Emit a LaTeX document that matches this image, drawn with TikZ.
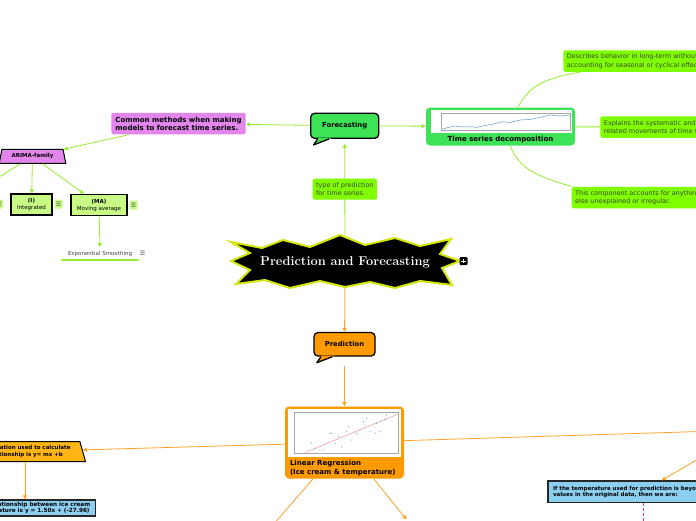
\documentclass[tikz,border=0pt]{standalone}
\usepackage{fontspec}
\usepackage{tikz}
\usetikzlibrary{arrows.meta,calc,positioning,shapes.geometric}
\newfontfamily\mapfont{DejaVu Sans}
\definecolor{limeline}{HTML}{94EC2C}
\definecolor{limefill}{HTML}{80FF00}
\definecolor{notetext}{HTML}{3A4428}
\definecolor{fcgreen}{HTML}{3EE257}
\definecolor{cmviolet}{HTML}{E386EC}
\definecolor{termgreen}{HTML}{C8FA86}
\definecolor{prorange}{HTML}{FF9B00}
\definecolor{prline}{HTML}{FFA128}
\definecolor{amberbox}{HTML}{FFB514}
\definecolor{skybox}{HTML}{8CCFF1}
\definecolor{starrim}{HTML}{D2E60A}
\definecolor{dashred}{HTML}{D2416E}
\definecolor{chartblue}{HTML}{5B9BD0}
\definecolor{lrred}{HTML}{F2A3A3}

\begin{document}
\begin{tikzpicture}[x=1pt, y=-1pt, line width=0.8pt,
  bubble/.style={draw=black, line width=1.3pt, rounded corners=4pt, inner sep=0, font=\mapfont\bfseries\fontsize{6.8}{8}\selectfont},
  panel/.style={rounded corners=4pt, inner sep=0},
  paneltitle/.style={anchor=south, yshift=1.5pt, inner sep=1pt, font=\mapfont\bfseries\fontsize{7}{8.7}\selectfont},
  lrtitle/.style={anchor=south west, xshift=4pt, yshift=2pt, inner sep=1pt, align=left, font=\mapfont\bfseries\fontsize{7}{8.7}\selectfont},
  violetnote/.style={fill=cmviolet, rounded corners=2pt, align=left, inner xsep=4pt, inner ysep=2pt, minimum height=21.5, font=\mapfont\bfseries\fontsize{7}{8.2}\selectfont},
  limenote/.style={fill=limefill, rounded corners=1.5pt, align=left, inner xsep=3.5pt, inner ysep=2pt, minimum height=21.5, text=notetext, font=\mapfont\fontsize{6.5}{8.5}\selectfont},
  termbox/.style={draw=black, line width=1.4pt, fill=termgreen, align=center, inner sep=0, font=\mapfont\fontsize{5.5}{7}\selectfont},
  noteicon/.style={fill=termgreen, rounded corners=1pt, minimum width=8, minimum height=9, inner sep=0, text=black!70, font=\mapfont\fontsize{6}{6}\selectfont},
  skynote/.style={draw=black!85, line width=1.5pt, fill=skybox, align=left, inner xsep=5pt, inner ysep=2pt, font=\mapfont\bfseries\fontsize{5.5}{5.9}\selectfont},
  trap/.style={trapezium, trapezium stretches body, draw=black, line width=1pt, inner sep=1pt, font=\mapfont\bfseries\fontsize{5.5}{6.6}\selectfont},
  noteline/.style={limeline, -{Triangle[length=4pt,width=4pt]}},
  plainline/.style={limeline},
  prarrow/.style={prline, -{Triangle[length=4pt,width=4pt]}}]
  \useasboundingbox (0,0) rectangle (696,520);
  \fill[white] (0,0) rectangle (696,520);
  \clip (0,0) rectangle (696,520);

  \filldraw[fill=black, draw=starrim, line width=2pt] (231,242) -- (262,248) -- (283,240) -- (310,247) -- (340,235) -- (365,245) -- (395,238) -- (420,246) -- (451,239) -- (440,254) -- (460,261) -- (442,268) -- (452,285) -- (420,281) -- (395,288) -- (370,282) -- (345,287) -- (320,281) -- (290,288) -- (265,280) -- (236,284) -- (250,270) -- (231,261) -- (250,253) -- cycle;
  \node[text=white, font=\bfseries\fontsize{12.8}{14}\selectfont, minimum width=226, minimum height=52] (pf) at (345,262) {Prediction and Forecasting};
  \node[fill=black, rounded corners=1pt, minimum size=8, inner sep=0] (pficon) at (463.5,261) {};
  \draw[white, line width=0.7pt] ($(pficon)+(-2.2,0)$) -- ($(pficon)+(2.2,0)$) ($(pficon)+(0,-2.2)$) -- ($(pficon)+(0,2.2)$);

  \node[bubble, fill=fcgreen, minimum width=68, minimum height=25] (fc) at (344.7,125.8) {Forecasting};
  \node[bubble, fill=prorange, minimum width=61, minimum height=23.5] (pr) at (344.5,344.3) {Prediction};
  \foreach \nd/\col in {fc/fcgreen,pr/prorange}{
    \fill[\col] ($(\nd.south west)+(8.4,-1.2)$) -- ($(\nd.south west)+(3.5,6)$) -- ($(\nd.south west)+(22.1,-1.2)$) -- cycle;
    \draw[line width=1.3pt, line join=round] ($(\nd.south west)+(7.6,0)$) -- ($(\nd.south west)+(3.5,6)$) -- ($(\nd.south west)+(19,0)$);
  }

  \node[violetnote, anchor=west] (cm) at (111,123.5) {Common methods when making\\models to forecast time series.};
  \node[trap, fill=cmviolet, trapezium left angle=70, trapezium right angle=70, minimum width=66.5, minimum height=14] (arima) at (32.5,156.3) {ARIMA-family};
  \node[termbox, minimum width=41, minimum height=21] (int) at (31.5,204.5) {\textbf{(I)}\\Integrated};
  \node[termbox, minimum width=56, minimum height=21] (ma) at (99,205) {\textbf{(MA)}\\Moving average};
  \foreach \px/\py [count=\i] in {-1/204, 58.5/204, 133.5/205}
    \node[noteicon] (icon\i) at (\px,\py) {☰};
  \node[minimum width=75, inner xsep=0, inner ysep=3.5pt, text=black!75, font=\mapfont\fontsize{5.5}{6.6}\selectfont] (es) at (100,253.5) {Exponential Smoothing};
  \draw[limeline, line width=2pt, line cap=round] (es.south west) -- (es.south east);
  \node[text=black!75, font=\mapfont\fontsize{6}{6}\selectfont] (esicon) at (142.5,253) {☰};

  \node[panel, fill=fcgreen, minimum width=149, minimum height=38, label={[paneltitle]south:Time series decomposition}] (tsd) at (500.5,126.5) {};
  \fill[white] (430.7,110) rectangle (571.7,133.3);
  \draw[black!35, line width=0.3pt] (441,113) rectangle (570,130.5);
  \draw[chartblue, line width=0.5pt] plot coordinates {(441.7,129.3) (448,127.5) (455,126) (462,127) (470,126.7) (477,127.3) (485,125.5) (492,124.3) (503,121.7) (510,122.5) (520,120) (530,119.5) (543,116.7) (550,115) (560,116) (570,115)};

  \node[limenote, anchor=west] (trend) at (563,61) {Describes behavior in long-term without\\accounting for seasonal or cyclical effects.};
  \node[limenote, anchor=west] (season) at (600,127) {Explains the systematic and calendar\\related movements of time series.};
  \node[limenote, anchor=west] (resid) at (571.3,197.5) {This component accounts for anything\\else unexplained or irregular.};

  \node[panel, fill=prorange, minimum width=119, minimum height=72, label={[lrtitle]south west:{Linear Regression\\(Ice cream \& temperature)}}] (lr) at (344.5,442.5) {};
  \fill[white] (288.3,409.3) rectangle (400.7,456.7);
  \draw[black!35, line width=0.3pt] (294,412) rectangle (398,453.5);
  \draw[lrred, line width=0.6pt] (305,452.5) -- (397,414.5);
  \foreach \sx/\sy in {311.7/443.3, 315/448.3, 320/450, 323.3/450, 330/433.3, 331.7/433.3, 335/443.3, 338.3/436.7, 341.7/446.7, 346.7/431.7, 348.3/426.7, 351.7/440, 356.7/433.3, 360/430, 363.3/421.7, 365/425, 366.7/418.3, 370/431.7, 375/433.3, 376.7/423.3, 380/431.7, 385/420, 386.7/415}
    \fill[chartblue] (\sx,\sy) circle (0.6);

  \node[trap, fill=amberbox, trapezium left angle=68, trapezium right angle=68, minimum width=121, minimum height=20, text width=100, align=left] (eq) at (25,451.5) {The equation used to calculate\\the relationship is y= mx +b};
  \node[skynote, anchor=north east, font=\mapfont\bfseries\fontsize{5.7}{5.5}\selectfont] (bl) at (96,499.3) {The relationship between ice cream\\temperature is y = 1.50x + (-27.96)};
  \node[skynote, anchor=west, minimum height=21.3] (dq) at (547.3,491.7) {If the temperature used for prediction is beyond the\\values in the original data, then we are:};

  \coordinate (arl) at (-30,195);
  \coordinate (far) at (748,430);
  \coordinate (lrl) at (260,540);
  \coordinate (lrr) at (406.5,519.5);
  \coordinate (dqn) at (643.3,545);

  \draw[noteline, shorten >=5pt] (pf) -- node[limenote, pos=.48, minimum height=21] (tsl) {type of prediction\\for time series.} (fc);
  \draw[noteline] (fc) -- (cm);
  \draw[noteline] (cm) -- (arima);
  \draw[noteline] (arima) -- (arl);
  \draw[noteline] (arima) -- (int);
  \draw[noteline] (arima) -- (ma);
  \draw[noteline] (ma) -- (es);
  \draw[noteline] (fc) -- (tsd);
  \draw[plainline] (tsd.48) .. controls +(12,-22) and +(-35,6) .. ($(trend.south west)+(17,0)$);
  \draw[limeline!60, line width=1.6pt] (tsd) -- (season);
  \draw[plainline] (tsd.-63) .. controls +(8,22) and +(-35,-10) .. (resid.north west);

  \draw[prarrow] (pf) -- (pr);
  \draw[prarrow, shorten <=9pt] (pr) -- (lr);
  \draw[prarrow] (lr) -- (eq);
  \draw[prarrow] (eq.south) -- (eq.south |- bl.north);
  \draw[prarrow] (lr) -- (far);
  \draw[prarrow] (far) -- ($(dq.north west)+(114.4,0)$);
  \draw[prline] (lr) -- (lrl);
  \draw[prarrow] (lr) -- (lrr);
  \draw[dashred, line width=1pt, dash pattern=on 3pt off 2pt] (dqn |- dq.south) -- (dqn);
\end{tikzpicture}
\end{document}
